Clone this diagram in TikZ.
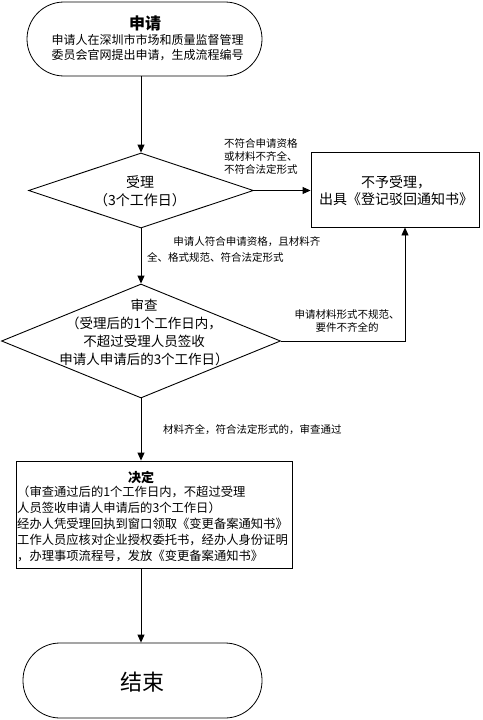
\documentclass[tikz,border=0pt]{standalone}
\usepackage{fontspec}
\setmainfont{Noto Sans CJK SC}
\usetikzlibrary{arrows.meta,shapes.geometric}
\begin{document}
\begin{tikzpicture}[x=1pt,y=-1pt,
  line/.style={draw=black, line width=0.9pt},
  arr/.style={line, -{Triangle[length=8pt,width=7pt]}},
  term/.style={draw, line width=0.8pt, rounded corners=37pt, inner sep=0pt},
  dia/.style={draw, diamond, line width=0.9pt, inner sep=0pt},
  box/.style={draw, line width=0.9pt, inner sep=0pt},
  txt/.style={inner sep=0pt, align=center},
  lbl/.style={inner sep=0pt, align=left, font=\fontsize{10.5}{13}\selectfont}]
\useasboundingbox (0,0) rectangle (482,720);
% shapes
\node[term, minimum width=235pt, minimum height=74pt] (start) at (144.5,39) {};
\node[dia, minimum width=225pt, minimum height=75pt] (d1) at (141,190.5) {};
\node[box, minimum width=168pt, minimum height=75pt] (no) at (395,189.5) {};
\node[dia, minimum width=279pt, minimum height=114pt] (d2) at (141,341) {};
\node[box, minimum width=276pt, minimum height=107pt] (dec) at (154,514.5) {};
\node[term, minimum width=239pt, minimum height=75pt] (end) at (142.5,680.5) {};
\coordinate (c1) at (405,341);
% texts
\node[txt, font=\fontsize{16}{18}\bfseries] (t1) at (145,23) {申请};
\node[txt, font=\fontsize{12}{15}\selectfont] (t2) at (147.5,47.5) {申请人在深圳市市场和质量监督管理\\委员会官网提出申请，生成流程编号};
\node[txt, font=\fontsize{14}{18}\selectfont] (t3) at (140,191) {受理\\（3个工作日）};
\node[txt, font=\fontsize{14}{17}\selectfont] (t4) at (396,190.5) {不予受理，\\出具《登记驳回通知书》};
\node[txt, font=\fontsize{13.5}{18}\selectfont] (t5) at (144,332) {审查\\（受理后的1个工作日内，\\不超过受理人员签收\\申请人申请后的3个工作日）};
\node[txt, font=\fontsize{13}{15}\bfseries] (t6) at (141,477) {决定};
\node[inner sep=0pt, align=left, anchor=north west, font=\fontsize{12.3}{16}\selectfont] (t7) at (17,486) {（审查通过后的1个工作日内，不超过受理\\人员签收申请人申请后的3个工作日）\\经办人凭受理回执到窗口领取《变更备案通知书》\\工作人员应核对企业授权委托书，经办人身份证明\\，办理事项流程号，发放《变更备案通知书》};
\node[txt, font=\fontsize{22}{24}\selectfont] (t8) at (142.5,682) {结束};
% labels
\node[lbl, anchor=west] (l1) at (224,157) {不符合申请资格\\或材料不齐全、\\不符合法定形式};
\node[lbl, anchor=west, font=\fontsize{10.5}{16}\selectfont] (l2) at (147,250) {\hspace{2.5em}申请人符合申请资格，且材料齐\\全、格式规范、符合法定形式};
\node[lbl, align=center] (l3) at (347,321.5) {申请材料形式不规范、\\要件不齐全的};
\node[lbl, anchor=west] (l4) at (163,430) {材料齐全，符合法定形式的，审查通过};
% connectors
\draw[arr] (d1.north |- start.south) -- (d1.north);
\draw[arr] (d1.east) -- (d1.east -| no.west);
\draw[arr] (d1.south) -- (d2.north);
\draw[arr] (d2.east) -- (c1) -- (c1 |- no.south);
\draw[arr] (d2.south) -- (d2.south |- dec.north);
\draw[arr] (d2.south |- dec.south) -- (d2.south |- end.north);
\end{tikzpicture}
\end{document}
